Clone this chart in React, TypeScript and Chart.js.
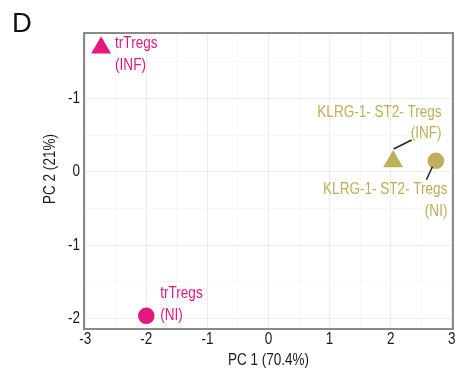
import React, { useEffect, useRef } from "react";
import { Chart, registerables } from "chart.js";

Chart.register(...registerables);

const sampleNames = ["trTregs (INF)", "trTregs (NI)", "KLRG-1- ST2- Tregs (INF)", "KLRG-1- ST2- Tregs (NI)"];
const labelLines = [["trTregs", "(INF)"], ["trTregs", "(NI)"], ["KLRG-1- ST2- Tregs", "(INF)"], ["KLRG-1- ST2- Tregs", "(NI)"]];
const pc1 = [-2.74, -2.0, 2.04, 2.74];
const pc2 = [1.69, -1.96, 0.14, 0.15];
const conditions = ["INF", "NI", "INF", "NI"];
const cellType = ["trTregs", "trTregs", "KLRG", "KLRG"];
const xTickValues = [-3, -2, -1, 0, 1, 2, 3];
const xTickLabels = ["-3", "-2", "-1", "0", "1", "2", "3"];
const yTickValues = [1, 0, -1, -2];
const yTickLabels = ["-1", "0", "-1", "-2"];
const xTitle = "PC 1 (70.4%)";
const yTitle = "PC 2 (21%)";

const MAGENTA = "#E4197F";
const OLIVE = "#BDAF5C";
const TEXT = "#1a1a1a";
const FONT = "'Liberation Sans', Arial, sans-serif";
const SQUEEZE = 0.82; // condensed look of the original typeface

function drawText(ctx: CanvasRenderingContext2D, text: string, x: number, y: number, align: CanvasTextAlign, size: number, color: string, rot = 0) {
  ctx.save();
  ctx.translate(x, y);
  if (rot) ctx.rotate(rot);
  ctx.scale(SQUEEZE, 1);
  ctx.font = `${size}px ${FONT}`;
  ctx.fillStyle = color;
  ctx.textAlign = align;
  ctx.textBaseline = "middle";
  ctx.fillText(text, 0, 0);
  ctx.restore();
}

// label placement relative to each point (pixel offsets), and connector segments
const labelStyle = [
  { dx: 14, dy: [-4.5, 17.5], align: "left", line: null },
  { dx: 14, dy: [-22, 0], align: "left", line: null },
  { dx: 48.5, dy: [-49.5, -28.5], align: "right", line: [0.5, -12.5, 18.5, -21.5] },
  { dx: 11.5, dy: [29, 51], align: "right", line: [-3.5, 6, -9.5, 19] },
];

const overlayPlugin = {
  id: "overlay",
  beforeDatasetsDraw(chart: any) {
    const { ctx, chartArea } = chart;
    ctx.save();
    ctx.strokeStyle = "#8a8a8a";
    ctx.lineWidth = 2;
    ctx.strokeRect(chartArea.left, chartArea.top, chartArea.right - chartArea.left, chartArea.bottom - chartArea.top);
    ctx.restore();
  },
  afterDatasetsDraw(chart: any) {
    const { ctx, chartArea } = chart;
    const xs = chart.scales.x;
    const ys = chart.scales.y;
    // tick labels
    xTickValues.forEach((v, i) => drawText(ctx, xTickLabels[i], xs.getPixelForValue(v), chartArea.bottom + 10.5, "center", 16.5, TEXT));
    yTickValues.forEach((v, i) => drawText(ctx, yTickLabels[i], chartArea.left - 4, ys.getPixelForValue(v), "right", 16.5, TEXT));
    // axis titles
    drawText(ctx, xTitle, (chartArea.left + chartArea.right) / 2, 360, "center", 16.5, TEXT);
    drawText(ctx, yTitle, 50, 169, "center", 16.5, TEXT, -Math.PI / 2);
    // point labels
    for (let i = 0; i < pc1.length; i++) {
      const px = xs.getPixelForValue(pc1[i]);
      const py = ys.getPixelForValue(pc2[i]);
      const st = labelStyle[i];
      const col = cellType[i] === "trTregs" ? MAGENTA : OLIVE;
      if (st.line) {
        ctx.save();
        ctx.strokeStyle = "#222";
        ctx.lineWidth = 1.5;
        ctx.beginPath();
        ctx.moveTo(px + st.line[0], py + st.line[1]);
        ctx.lineTo(px + st.line[2], py + st.line[3]);
        ctx.stroke();
        ctx.restore();
      }
      labelLines[i].forEach((t, k) => drawText(ctx, t, px + st.dx, py + st.dy[k], st.align as CanvasTextAlign, 16.5, col));
    }
    // panel letter
    ctx.save();
    ctx.fillStyle = "#111";
    ctx.font = `27.5px ${FONT}`;
    ctx.textAlign = "left";
    ctx.textBaseline = "alphabetic";
    ctx.fillText("D", 12, 32);
    ctx.restore();
  },
};

export default function App() {
  const ref = useRef<HTMLCanvasElement>(null);
  useEffect(() => {
    if (!ref.current) return;
    const datasets = sampleNames.map((name, i) => ({
      label: name,
      data: [{ x: pc1[i], y: pc2[i] }],
      pointStyle: conditions[i] === "INF" ? "triangle" : "circle",
      pointRadius: conditions[i] === "INF" ? 11.5 : 8.3,
      backgroundColor: cellType[i] === "trTregs" ? MAGENTA : OLIVE,
      borderWidth: 0,
    }));
    const gridColor = (c: any) => (Number.isInteger(c.tick?.value) ? "#ededed" : "#f7f7f7");
    const chart = new Chart(ref.current, {
      type: "scatter",
      data: { datasets },
      plugins: [overlayPlugin],
      options: {
        animation: false,
        responsive: false,
        layout: { autoPadding: false, padding: { left: 0, top: 33, right: 2, bottom: 0 } },
        plugins: { legend: { display: false }, tooltip: { enabled: false } },
        scales: {
          x: {
            type: "linear",
            min: -3.02,
            max: 3.02,
            afterBuildTicks: (s: any) => {
              const t: any[] = [];
              for (let v = -3; v <= 3.001; v += 0.5) t.push({ value: v });
              s.ticks = t;
            },
            ticks: { display: false },
            grid: { drawTicks: false, color: gridColor },
            border: { display: false },
            afterFit: (s: any) => {
              s.height = 46;
              s.paddingLeft = 0;
              s.paddingRight = 0;
            },
          },
          y: {
            type: "linear",
            min: -2.14,
            max: 1.89,
            afterBuildTicks: (s: any) => {
              const t: any[] = [];
              for (let v = -2; v <= 1.501; v += 0.5) t.push({ value: v });
              s.ticks = t;
            },
            ticks: { display: false },
            grid: { drawTicks: false, color: gridColor },
            border: { display: false },
            afterFit: (s: any) => {
              s.width = 84;
              s.paddingTop = 0;
              s.paddingBottom = 0;
            },
          },
        },
      },
    } as any);
    return () => chart.destroy();
  }, []);
  return (
    <div style={{ position: "absolute", left: 0, top: 0, width: 455, height: 375, background: "#fff" }}>
      <canvas ref={ref} width={455} height={375} style={{ display: "block" }} />
    </div>
  );
}
